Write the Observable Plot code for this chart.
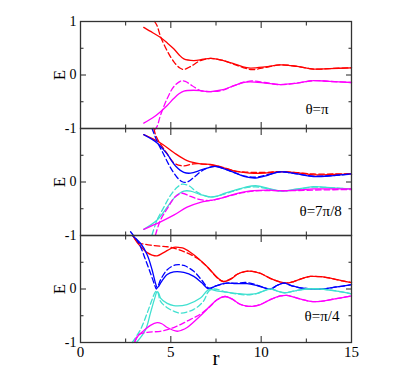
<!DOCTYPE html>
<html>
<head>
<meta charset="utf-8">
<script src="https://cdn.jsdelivr.net/npm/d3@7"></script>
<script src="https://cdn.jsdelivr.net/npm/@observablehq/plot@0.6"></script>
<style>
  html, body { margin: 0; padding: 0; background: #fff; }
</style>
</head>
<body>
<div id="chart"></div>
<script>
// ---- Panels (θ values) ----
const panels = ["θ=π", "θ=7π/8", "θ=π/4"];
const panelLabelR = [12.45, 12.12, 12.4];
const panelLabelE = [-0.63, -0.55, -0.5];

// ---- Axis ticks ----
const xMajor = [0, 5, 10, 15];
const xMinor = [2.5, 7.5, 12.5];
const yMajor = [-1, 0, 1];
const yMinor = [-0.5, 0.5];
const xTickLabels = ["0", "5", "10", "15"];
const yTickValues = [1, 0, -1];
const yTickLabels = ["1", "0", "-1"];

// ---- Panel 1: θ=π  ([r, E]) ----
const piRedSolid = [[3.5,0.89],[4.0,0.79],[4.43,0.70],[4.8,0.60],[5.16,0.49],[5.45,0.38],[5.72,0.30],[6.27,0.27],[6.8,0.295],[7.2,0.31],[7.8,0.28],[8.5,0.21],[9.0,0.15],[9.4,0.13],[10.2,0.15],[11.07,0.19],[12.0,0.16],[12.9,0.11],[13.8,0.12],[15,0.135]];
const piRedDashed = [[4.1,1.0],[4.24,0.92],[4.43,0.72],[4.8,0.45],[5.16,0.25],[5.5,0.13],[5.72,0.105],[6.1,0.16],[6.64,0.27],[7.2,0.31],[7.8,0.28],[8.5,0.20],[9.0,0.14],[9.5,0.10],[10.2,0.14],[11.07,0.19],[12.0,0.16],[12.9,0.11],[13.8,0.12],[15,0.135]];
const piMagentaSolid = [[3.5,-0.90],[4.0,-0.80],[4.43,-0.685],[4.8,-0.57],[5.16,-0.44],[5.45,-0.35],[5.72,-0.30],[6.27,-0.285],[6.8,-0.30],[7.2,-0.31],[7.8,-0.28],[8.5,-0.20],[9.0,-0.14],[9.4,-0.13],[10.2,-0.15],[11.07,-0.18],[12.0,-0.15],[12.9,-0.105],[13.8,-0.12],[15,-0.14]];
const piMagentaDashed = [[4.1,-1.03],[4.24,-0.96],[4.43,-0.75],[4.8,-0.44],[5.16,-0.22],[5.57,-0.11],[5.8,-0.12],[6.18,-0.20],[6.64,-0.29],[7.2,-0.31],[7.8,-0.29],[8.5,-0.20],[9.0,-0.14],[9.5,-0.11],[10.2,-0.14],[11.07,-0.18],[12.0,-0.15],[12.9,-0.105],[13.8,-0.12],[15,-0.14]];

// ---- Panel 2: θ=7π/8 ----
const p78RedSolid = [[3.5,0.885],[4.43,0.73],[5.16,0.55],[5.9,0.40],[6.64,0.34],[7.2,0.33],[7.8,0.28],[8.48,0.21],[9.0,0.18],[9.59,0.16],[10.3,0.17],[11.07,0.195],[12.0,0.17],[12.91,0.135],[14.0,0.14],[15,0.15]];
const p78RedDashed = [[4.06,1.0],[4.15,0.885],[4.33,0.76],[4.76,0.55],[5.16,0.36],[5.68,0.30],[6.27,0.34],[7.0,0.33],[7.8,0.28],[8.48,0.21],[9.0,0.19],[9.6,0.18],[10.3,0.18],[11.07,0.195],[12.0,0.175],[12.91,0.15],[14.0,0.15],[15,0.155]];
const p78BlueSolid = [[3.5,0.885],[4.24,0.73],[4.8,0.52],[5.26,0.30],[5.72,0.18],[6.09,0.165],[6.64,0.22],[7.2,0.28],[7.5,0.29],[8.0,0.24],[8.48,0.18],[9.1,0.10],[9.7,0.075],[10.4,0.13],[11.07,0.19],[12.0,0.15],[12.9,0.10],[14.0,0.12],[15,0.15]];
const p78BlueDashed = [[3.96,1.0],[4.24,0.76],[4.6,0.52],[4.98,0.27],[5.35,0.085],[5.63,0.005],[5.9,0.0],[6.27,0.085],[6.73,0.21],[7.2,0.28],[7.5,0.29],[8.0,0.24],[8.48,0.18],[9.1,0.11],[9.7,0.09],[10.4,0.14],[11.07,0.19],[12.0,0.15],[12.9,0.11],[14.0,0.12],[15,0.15]];
const p78CyanSolid = [[3.5,-0.885],[4.24,-0.71],[4.8,-0.47],[5.26,-0.27],[5.72,-0.17],[6.09,-0.17],[6.64,-0.235],[7.2,-0.28],[7.5,-0.27],[8.0,-0.21],[8.48,-0.16],[9.1,-0.10],[9.7,-0.07],[10.4,-0.12],[11.07,-0.17],[12.0,-0.13],[12.9,-0.087],[14.0,-0.11],[15,-0.13]];
const p78CyanDashed = [[3.96,-0.99],[4.24,-0.71],[4.6,-0.48],[4.98,-0.25],[5.35,-0.10],[5.63,-0.04],[6.0,-0.07],[6.45,-0.19],[7.0,-0.27],[7.5,-0.27],[8.0,-0.22],[8.48,-0.17],[9.1,-0.11],[9.7,-0.09],[10.4,-0.13],[11.07,-0.17],[12.0,-0.14],[12.9,-0.095],[14.0,-0.11],[15,-0.13]];
const p78MagentaSolid = [[3.5,-0.885],[4.43,-0.745],[5.16,-0.62],[5.9,-0.47],[6.64,-0.38],[7.2,-0.345],[7.8,-0.30],[8.48,-0.23],[9.0,-0.19],[9.59,-0.16],[10.3,-0.15],[11.07,-0.16],[12.0,-0.15],[12.9,-0.13],[14.0,-0.13],[15,-0.13]];
const p78MagentaDashed = [[4.15,-0.99],[4.43,-0.71],[4.8,-0.50],[5.26,-0.27],[5.63,-0.21],[6.09,-0.27],[6.64,-0.33],[7.2,-0.345],[7.8,-0.30],[8.48,-0.24],[9.0,-0.20],[9.6,-0.17],[10.3,-0.16],[11.07,-0.165],[12.0,-0.16],[12.9,-0.15],[14.0,-0.145],[15,-0.14]];

// ---- Panel 3: θ=π/4 ----
const p4RedSolid = [[2.9,1.0],[3.13,0.87],[3.4,0.77],[3.69,0.68],[3.96,0.635],[4.24,0.62],[4.6,0.68],[5.16,0.78],[5.5,0.775],[5.72,0.76],[6.27,0.64],[7.0,0.42],[7.56,0.22],[7.9,0.14],[8.3,0.18],[8.7,0.28],[9.13,0.33],[9.5,0.33],[9.96,0.29],[10.5,0.20],[11.07,0.13],[11.4,0.11],[11.8,0.14],[12.3,0.20],[12.73,0.235],[13.3,0.23],[14.0,0.19],[14.5,0.15],[15,0.12]];
const p4RedDashed = [[2.9,1.0],[3.2,0.86],[3.5,0.84],[3.87,0.82],[4.4,0.80],[4.8,0.79],[5.2,0.76],[5.72,0.70],[6.46,0.575],[7.0,0.42],[7.56,0.21],[7.9,0.14],[8.3,0.19],[8.7,0.28],[9.2,0.33],[9.5,0.33],[10.0,0.29],[10.5,0.20],[11.07,0.13],[11.4,0.11],[11.8,0.14],[12.3,0.20],[12.73,0.235],[13.3,0.23],[14.0,0.19],[14.5,0.15],[15,0.12]];
const p4BlueSolid = [[2.86,1.0],[3.32,0.855],[3.69,0.64],[3.96,0.36],[4.15,0.11],[4.24,0.03],[4.33,0.05],[4.43,0.11],[4.8,0.27],[5.16,0.32],[5.72,0.31],[6.27,0.235],[6.7,0.12],[7.1,0.0],[7.5,0.06],[8.1,0.11],[8.6,0.10],[9.22,0.10],[9.8,0.06],[10.5,0.0],[10.9,0.07],[11.26,0.11],[11.7,0.06],[12.17,0.02],[13.3,0.0],[14.2,0.04],[15,0.08]];
const p4BlueDashed = [[2.77,1.07],[3.23,0.855],[3.6,0.545],[3.87,0.30],[4.1,0.08],[4.2,0.0],[4.3,0.06],[4.43,0.17],[4.8,0.36],[5.26,0.45],[5.72,0.44],[6.27,0.33],[6.7,0.17],[7.1,0.02],[7.5,0.06],[8.1,0.11],[8.6,0.11],[9.22,0.12],[9.8,0.07],[10.5,0.0],[10.9,0.07],[11.26,0.11],[11.7,0.06],[12.17,0.02],[13.3,0.0],[14.2,0.04],[15,0.08]];
const p4CyanSolid = [[3.1,-1.0],[3.6,-0.76],[3.87,-0.45],[4.11,-0.17],[4.24,-0.05],[4.33,-0.08],[4.43,-0.17],[4.8,-0.27],[5.16,-0.31],[5.9,-0.29],[6.64,-0.17],[7.1,-0.01],[7.6,-0.04],[8.1,-0.06],[8.6,-0.08],[9.22,-0.10],[9.8,-0.08],[10.5,0.0],[10.9,-0.04],[11.3,-0.07],[11.8,-0.04],[12.5,0.0],[13.3,0.0],[14.2,-0.04],[15,-0.09]];
const p4CyanDashed = [[2.86,-1.0],[3.32,-0.76],[3.69,-0.45],[3.96,-0.20],[4.15,-0.05],[4.25,-0.04],[4.43,-0.23],[4.8,-0.35],[5.16,-0.415],[5.53,-0.45],[6.27,-0.38],[6.8,-0.23],[7.1,-0.04],[7.4,0.0],[8.1,-0.06],[8.6,-0.09],[9.22,-0.11],[9.8,-0.08],[10.5,0.0],[10.9,-0.04],[11.3,-0.07],[11.8,-0.04],[12.5,0.0],[13.3,0.0],[14.2,-0.04],[15,-0.09]];
const p4MagentaSolid = [[3.0,-0.99],[3.2,-0.87],[3.5,-0.78],[3.87,-0.68],[4.24,-0.63],[4.5,-0.65],[4.8,-0.72],[5.35,-0.79],[5.6,-0.77],[5.9,-0.72],[6.64,-0.50],[7.2,-0.31],[7.56,-0.20],[8.0,-0.14],[8.4,-0.19],[8.8,-0.28],[9.2,-0.32],[9.6,-0.32],[9.96,-0.29],[10.5,-0.20],[11.07,-0.13],[11.4,-0.12],[11.8,-0.15],[12.3,-0.20],[12.73,-0.23],[13.3,-0.23],[14.0,-0.19],[14.5,-0.16],[15,-0.13]];
const p4MagentaDashed = [[3.0,-0.99],[3.2,-0.86],[3.69,-0.81],[4.43,-0.79],[5.16,-0.72],[5.9,-0.60],[6.64,-0.47],[7.2,-0.32],[7.56,-0.20],[8.0,-0.14],[8.4,-0.19],[8.8,-0.28],[9.2,-0.32],[9.6,-0.32],[9.96,-0.29],[10.5,-0.20],[11.07,-0.13],[11.4,-0.12],[11.8,-0.15],[12.3,-0.20],[12.73,-0.23],[13.3,-0.23],[14.0,-0.19],[14.5,-0.16],[15,-0.13]];

// ---- Series definitions ----
const RED = "#ff0000", BLUE = "#0000ff", MAGENTA = "#ff00ff", CYAN = "#40e0d0";
const series = [
  {panel: panels[0], color: RED, dashed: false, pts: piRedSolid},
  {panel: panels[0], color: RED, dashed: true, pts: piRedDashed},
  {panel: panels[0], color: MAGENTA, dashed: false, pts: piMagentaSolid},
  {panel: panels[0], color: MAGENTA, dashed: true, pts: piMagentaDashed},
  {panel: panels[1], color: RED, dashed: false, pts: p78RedSolid},
  {panel: panels[1], color: RED, dashed: true, pts: p78RedDashed},
  {panel: panels[1], color: BLUE, dashed: false, pts: p78BlueSolid},
  {panel: panels[1], color: BLUE, dashed: true, pts: p78BlueDashed},
  {panel: panels[1], color: CYAN, dashed: false, pts: p78CyanSolid},
  {panel: panels[1], color: CYAN, dashed: true, pts: p78CyanDashed},
  {panel: panels[1], color: MAGENTA, dashed: false, pts: p78MagentaSolid},
  {panel: panels[1], color: MAGENTA, dashed: true, pts: p78MagentaDashed},
  {panel: panels[2], color: RED, dashed: false, pts: p4RedSolid},
  {panel: panels[2], color: RED, dashed: true, pts: p4RedDashed},
  {panel: panels[2], color: BLUE, dashed: false, pts: p4BlueSolid},
  {panel: panels[2], color: BLUE, dashed: true, pts: p4BlueDashed},
  {panel: panels[2], color: CYAN, dashed: false, pts: p4CyanSolid},
  {panel: panels[2], color: CYAN, dashed: true, pts: p4CyanDashed},
  {panel: panels[2], color: MAGENTA, dashed: false, pts: p4MagentaSolid},
  {panel: panels[2], color: MAGENTA, dashed: true, pts: p4MagentaDashed}
];

const lineMarks = series.map(s =>
  Plot.line(s.pts.map(([r, E]) => ({r, E, panel: s.panel})), {
    x: "r", y: "E", fy: "panel",
    stroke: s.color, strokeWidth: 1.3,
    strokeDasharray: s.dashed ? "5.5,3" : null,
    curve: "catmull-rom"
  })
);

// y tick label rows (top "1" only on the first panel; boundaries show "-1")
const yLabelRows = [];
panels.forEach((p, i) => {
  yTickValues.forEach((v, j) => {
    if (i > 0 && v === 1) return;
    yLabelRows.push({panel: p, y: v, label: yTickLabels[j]});
  });
});

const thetaRows = panels.map((p, i) => ({panel: p, r: panelLabelR[i], E: panelLabelE[i], label: p}));

const tickStyle = {stroke: "#222", strokeWidth: 1, fill: "none", label: null, facetAnchor: null};

const chart = Plot.plot({
  width: 415,
  height: 382,
  marginTop: 20,
  marginBottom: 39,
  marginLeft: 80,
  marginRight: 64,
  x: {domain: [0, 15]},
  y: {domain: [-1, 1]},
  fy: {domain: panels, padding: 0, axis: null},
  style: {fontFamily: "'Liberation Serif', 'DejaVu Serif', serif", background: "white", color: "#000"},
  marks: [
    ...lineMarks,
    // inward tick marks
    Plot.axisX({...tickStyle, ticks: xMajor, anchor: "bottom", tickSize: -6}),
    Plot.axisX({...tickStyle, ticks: xMinor, anchor: "bottom", tickSize: -3.5}),
    Plot.axisX({...tickStyle, ticks: xMajor, anchor: "top", tickSize: -6}),
    Plot.axisX({...tickStyle, ticks: xMinor, anchor: "top", tickSize: -3.5}),
    Plot.axisY({...tickStyle, ticks: yMajor, anchor: "left", tickSize: -6}),
    Plot.axisY({...tickStyle, ticks: yMinor, anchor: "left", tickSize: -3.5}),
    Plot.axisY({...tickStyle, ticks: yMajor, anchor: "right", tickSize: -6}),
    Plot.axisY({...tickStyle, ticks: yMinor, anchor: "right", tickSize: -3.5}),
    Plot.frame({stroke: "#333", strokeWidth: 1.3}),
    // x tick labels (bottom panel only)
    Plot.axisX({ticks: xMajor, tickFormat: (d, i) => xTickLabels[i], anchor: "bottom", tickSize: 0, tickPadding: 4, fontSize: 15, label: null}),
    // y tick labels
    Plot.text(yLabelRows, {fy: "panel", y: "y", text: "label", frameAnchor: "left", textAnchor: "end", dx: -4, fontSize: 14}),
    // y axis title E per panel
    Plot.text(panels, {fy: d => d, y: () => 0, text: () => "E", frameAnchor: "left", textAnchor: "middle", dx: -21, rotate: -90, fontSize: 17}),
    // x axis title
    Plot.text(["r"], {fy: () => panels[2], text: d => d, frameAnchor: "bottom", dy: 22, fontSize: 21}),
    // panel annotations
    Plot.text(thetaRows, {fy: "panel", x: "r", y: "E", text: "label", textAnchor: "start", fontSize: 15})
  ]
});

document.getElementById("chart").appendChild(chart);
</script>
</body>
</html>
